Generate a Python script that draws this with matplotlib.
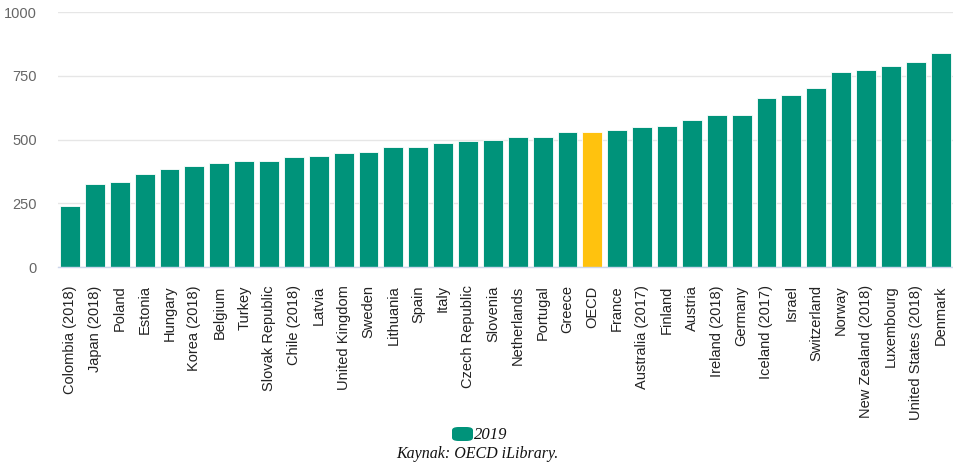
import matplotlib
matplotlib.use("Agg")
import matplotlib.pyplot as plt
from matplotlib.patches import FancyBboxPatch

countries = ["Colombia (2018)", "Japan (2018)", "Poland", "Estonia", "Hungary", "Korea (2018)",
             "Belgium", "Turkey", "Slovak Republic", "Chile (2018)", "Latvia", "United Kingdom",
             "Sweden", "Lithuania", "Spain", "Italy", "Czech Republic", "Slovenia", "Netherlands",
             "Portugal", "Greece", "OECD", "France", "Australia (2017)", "Finland", "Austria",
             "Ireland (2018)", "Germany", "Iceland (2017)", "Israel", "Switzerland", "Norway",
             "New Zealand (2018)", "Luxembourg", "United States (2018)", "Denmark"]
values_2019 = [239, 327, 333, 364, 384, 396, 410, 415, 415, 431, 436, 446, 452, 472, 472, 488,
               493, 497, 509, 509, 529, 529, 539, 550, 555, 576, 597, 597, 664, 674, 701, 764,
               773, 788, 804, 841]
yticks = [0, 250, 500, 750, 1000]
series_name = "2019"
source_text = "Kaynak: OECD iLibrary."
highlight = "OECD"

GREEN = "#00937A"
YELLOW = "#FFC20E"

fig = plt.figure(figsize=(9.54, 4.67), dpi=100)
W, H = 954, 467
left, right, top, bottom = 57.6, 953, 12, 267.3
ax = fig.add_axes([left / W, (H - bottom) / H, (right - left) / W, (bottom - top) / H])

colors = [YELLOW if c == highlight else GREEN for c in countries]
x = list(range(len(countries)))
ax.bar(x, values_2019, width=0.8, color=colors, edgecolor="white", linewidth=0.6, zorder=3)

ax.set_xlim(-0.5, len(countries) - 0.5)
ax.set_ylim(0, 1000)
ax.set_yticks(yticks)
ax.set_yticklabels([str(v) for v in yticks], fontfamily="Liberation Sans", fontsize=10.5, color="#666666")
ax.set_xticks(x)
ax.set_xticklabels(countries, rotation=90, fontfamily="Liberation Sans", fontsize=10.5,
                   color="#222222", va="top", ha="center")
ax.tick_params(axis="y", length=0, pad=14.8)
ax.tick_params(axis="x", length=0, pad=13)
ax.grid(axis="y", color="#e6e6e6", linewidth=1, zorder=0)
for s in ["top", "right", "left"]:
    ax.spines[s].set_visible(False)
ax.spines["bottom"].set_color("#ccd6eb")
ax.spines["bottom"].set_linewidth(1)
ax.spines["bottom"].set_zorder(4)

# legend
patch = FancyBboxPatch((452 / W, (H - 441) / H), 21 / W, 14 / H,
                       boxstyle="round,pad=0,rounding_size=0.007",
                       transform=fig.transFigure, facecolor=GREEN, edgecolor="none")
fig.patches.append(patch)
fig.text(474 / W, (H - 435) / H, series_name, fontfamily="Liberation Serif", style="italic",
         fontsize=12, color="#111111", va="center", ha="left")
fig.text(477 / W, (H - 454) / H, source_text, fontfamily="Liberation Serif", style="italic",
         fontsize=11.5, color="#111111", va="center", ha="center")

fig.savefig("out.png", dpi=100)
